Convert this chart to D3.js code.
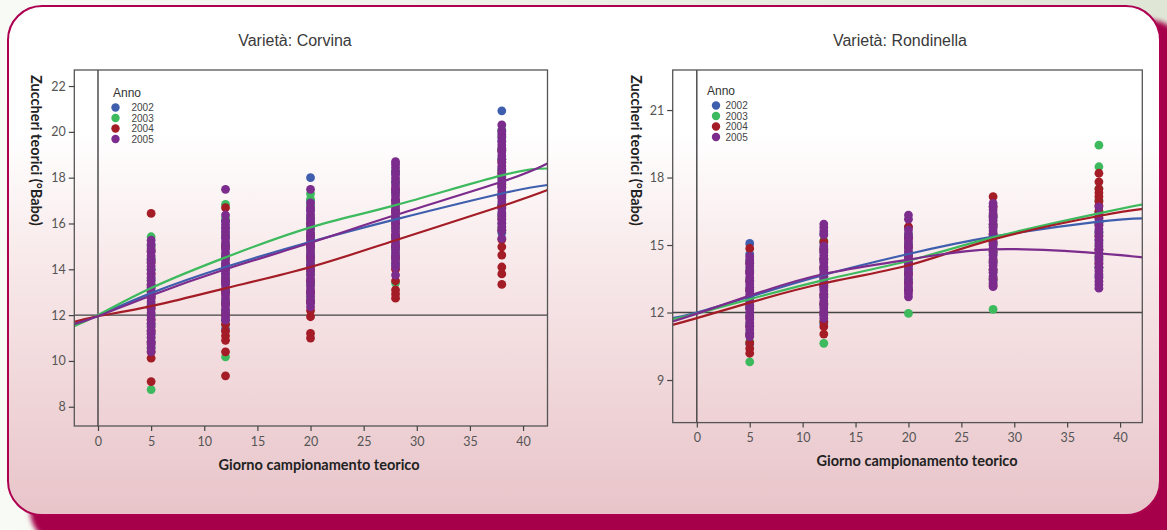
<!DOCTYPE html>
<html>
<head>
<meta charset="utf-8">
<script src="https://cdn.jsdelivr.net/npm/d3@7"></script>
<style>
  body { margin: 0; background: #fff; }
  svg { display: block; }
</style>
</head>
<body>
<script>
// Sampling days and years
const days = [5, 12, 20, 28, 38];
const years = ["2002", "2003", "2004", "2005"];
const yearColors = ["#3f5fae", "#3dba5d", "#a31c26", "#7b2c8c"];

// Tick labels
const corvinaTicksY = [8, 10, 12, 14, 16, 18, 20, 22];
const rondinellaTicksY = [9, 12, 15, 18, 21];
const ticksX = [0, 5, 10, 15, 20, 25, 30, 35, 40];

// Corvina: one list of readings per sampling day
const corvina2002 = [
    [10.8, 11.2, 11.6, 12.0, 12.4, 12.8, 13.2, 13.6, 14.0, 14.4, 14.8, 15.1],
    [11.4, 11.8, 12.2, 12.6, 13.0, 13.4, 13.8, 14.2, 14.6, 15.0, 15.4, 15.8, 16.1],
    [12.6, 13.0, 13.4, 13.8, 14.2, 14.6, 15.0, 15.4, 15.8, 16.2, 16.6, 17.0, 18.0],
    [14.2, 14.6, 15.0, 15.4, 15.8, 16.2, 16.6, 17.0, 17.4, 17.8, 18.2],
    [15.6, 16.0, 16.4, 16.8, 17.2, 17.6, 18.0, 18.4, 18.8, 19.2, 19.6, 20.0, 20.92]
];
const corvina2003 = [
    [8.75, 10.6, 11.0, 11.5, 12.0, 12.5, 13.0, 13.5, 14.0, 14.5, 15.0, 15.42],
    [10.18, 11.6, 12.1, 12.6, 13.1, 13.6, 14.1, 14.6, 15.1, 15.6, 16.24, 16.83],
    [12.8, 13.3, 13.8, 14.3, 14.8, 15.3, 15.8, 16.3, 16.8, 17.05, 17.3],
    [13.41, 14.3, 14.8, 15.3, 15.8, 16.3, 16.8, 17.3, 17.8, 18.3],
    [15.8, 16.3, 16.8, 17.3, 17.8, 18.3, 18.8, 19.3, 19.8, 20.1]
];
const corvina2004 = [
    [9.1, 10.12, 10.4, 10.8, 11.3, 11.8, 12.3, 12.8, 13.3, 13.8, 14.3, 14.8, 16.44],
    [9.35, 10.4, 10.9, 11.1, 11.3, 11.6, 12.0, 12.5, 13.0, 13.5, 14.0, 14.5, 15.0, 16.69],
    [11.0, 11.2, 11.93, 12.2, 12.6, 13.0, 13.5, 14.0, 14.5, 15.0, 15.5, 16.0],
    [12.74, 12.92, 13.1, 13.5, 14.0, 14.5, 15.0, 15.5, 16.0, 16.5, 17.0, 17.5],
    [13.34, 13.8, 14.1, 14.62, 14.98, 15.3, 15.7, 16.2, 16.7, 17.2, 17.7, 18.2, 18.7, 19.2]
];
const corvina2005 = [
    [10.40, 10.55, 10.72, 10.86, 11.03, 11.18, 11.34, 11.49, 11.65, 11.8, 11.96, 12.1, 12.27, 12.42, 12.58, 12.73,
     12.89, 13.04, 13.2, 13.35, 13.51, 13.66, 13.82, 13.97, 14.13, 14.28, 14.44, 14.59, 14.75, 14.9, 15.06, 15.27],
    [11.78, 11.93, 12.09, 12.24, 12.4, 12.55, 12.71, 12.86, 13.02, 13.17, 13.33, 13.48, 13.64, 13.79, 13.95, 14.1,
     14.26, 14.41, 14.57, 14.72, 14.88, 15.03, 15.19, 15.34, 15.5, 15.65, 15.81, 15.96, 16.12, 16.37, 17.49],
    [12.36, 12.52, 12.67, 12.83, 12.98, 13.14, 13.29, 13.45, 13.6, 13.76, 13.91, 14.07, 14.22, 14.38, 14.53, 14.69,
     14.84, 15.0, 15.15, 15.31, 15.46, 15.62, 15.77, 15.93, 16.08, 16.24, 16.39, 16.55, 16.7, 16.9, 17.49],
    [13.75, 14.1, 14.25, 14.41, 14.56, 14.72, 14.87, 15.03, 15.18, 15.34, 15.49, 15.65, 15.8, 15.96, 16.11, 16.27,
     16.42, 16.58, 16.73, 16.89, 17.04, 17.2, 17.35, 17.51, 17.66, 17.82, 17.97, 18.13, 18.28, 18.44, 18.59, 18.7],
    [15.35, 15.71, 15.86, 16.02, 16.17, 16.33, 16.48, 16.64, 16.79, 16.95, 17.1, 17.26, 17.41, 17.57, 17.72, 17.88,
     18.03, 18.19, 18.34, 18.5, 18.65, 18.81, 18.96, 19.12, 19.27, 19.43, 19.58, 19.74, 19.89, 20.05, 20.3]
];

// Rondinella
const rondinella2002 = [
    [10.6, 11.0, 11.4, 11.8, 12.2, 12.6, 13.0, 13.4, 13.8, 14.2, 14.6, 15.07],
    [11.5, 11.9, 12.3, 12.7, 13.1, 13.5, 13.9, 14.3, 14.7, 15.1, 15.5],
    [13.0, 13.4, 13.8, 14.2, 14.6, 15.0, 15.4, 15.8],
    [13.4, 13.8, 14.2, 14.6, 15.0, 15.4, 15.8, 16.2],
    [13.6, 14.0, 14.4, 14.8, 15.2, 15.6, 16.0, 16.4]
];
const rondinella2003 = [
    [9.81, 10.7, 11.1, 11.5, 11.9, 12.3, 12.7, 13.1, 13.5, 13.9, 14.3],
    [10.63, 11.6, 12.0, 12.4, 12.8, 13.2, 13.6, 14.0, 14.4, 14.8, 15.2],
    [11.96, 13.1, 13.5, 13.9, 14.3, 14.7, 15.1, 15.5],
    [12.14, 13.5, 13.9, 14.3, 14.7, 15.1, 15.5, 15.9, 16.3],
    [14.0, 14.5, 15.0, 15.5, 16.0, 16.5, 17.0, 17.5, 18.48, 19.44]
];
const rondinella2004 = [
    [10.19, 10.4, 10.65, 11.0, 11.4, 11.8, 12.2, 12.6, 13.0, 13.4, 13.8, 14.2, 14.85],
    [11.04, 11.37, 11.6, 12.0, 12.4, 12.8, 13.2, 13.6, 14.0, 14.4, 14.8, 15.15],
    [13.0, 13.3, 13.7, 14.1, 14.5, 14.9, 15.3, 15.81],
    [13.2, 13.5, 13.9, 14.3, 14.7, 15.1, 15.5, 15.9, 16.3, 16.7, 17.15],
    [14.2, 14.8, 15.4, 15.9, 16.2, 16.5, 16.75, 16.95, 17.15, 17.32, 17.5, 17.81, 18.19]
];
const rondinella2005 = [
    [10.93, 11.08, 11.24, 11.39, 11.55, 11.7, 11.86, 12.01, 12.17, 12.32, 12.48, 12.63, 12.79, 12.94, 13.1, 13.25,
     13.41, 13.56, 13.72, 13.87, 14.03, 14.18, 14.34, 14.48],
    [11.74, 11.89, 12.05, 12.2, 12.36, 12.51, 12.67, 12.82, 12.98, 13.13, 13.29, 13.44, 13.6, 13.75, 13.91, 14.06,
     14.22, 14.37, 14.53, 14.68, 14.84, 14.95, 15.45, 15.62, 15.78, 15.93],
    [12.7, 12.85, 13.01, 13.16, 13.32, 13.47, 13.63, 13.78, 13.94, 14.09, 14.25, 14.4, 14.56, 14.71, 14.87, 15.02,
     15.18, 15.33, 15.49, 15.67, 16.15, 16.33],
    [13.15, 13.3, 13.46, 13.61, 13.77, 13.92, 14.08, 14.23, 14.39, 14.54, 14.7, 14.85, 15.01, 15.16, 15.32, 15.47,
     15.63, 15.78, 15.94, 16.09, 16.25, 16.4, 16.56, 16.71, 16.85],
    [13.08, 13.23, 13.39, 13.54, 13.7, 13.85, 14.01, 14.16, 14.32, 14.47, 14.63, 14.78, 14.94, 15.09, 15.25, 15.4,
     15.56, 15.71, 15.87, 16.02, 16.18, 16.33, 16.7]
];

// Fitted curves, read at these days
const fitDays = [-2.3, 0, 5, 12, 20, 28, 38, 42.3];
const corvinaFit2002 = [11.6, 11.98, 12.96, 14.1, 15.2, 16.18, 17.31, 17.68];
const corvinaFit2003 = [11.5, 12.0, 13.18, 14.52, 15.83, 16.8, 18.1, 18.4];
const corvinaFit2004 = [11.7, 11.95, 12.39, 13.17, 14.1, 15.27, 16.76, 17.46];
const corvinaFit2005 = [11.6, 11.95, 12.86, 14.0, 15.16, 16.37, 17.82, 18.62];
const rondinellaFit2002 = [11.75, 12.0, 12.7, 13.67, 14.6, 15.37, 16.04, 16.19];
const rondinellaFit2003 = [11.7, 11.95, 12.59, 13.44, 14.3, 15.34, 16.41, 16.82];
const rondinellaFit2004 = [11.45, 11.75, 12.44, 13.3, 14.1, 15.25, 16.29, 16.61];
const rondinellaFit2005 = [11.6, 11.95, 12.75, 13.71, 14.35, 14.81, 14.63, 14.44];

const width = 1167, height = 530;
const svg = d3.select("body").append("svg")
    .attr("width", width)
    .attr("height", height);

const defs = svg.append("defs");

// Page background
const bg = defs.append("linearGradient").attr("id", "bg").attr("x1", 0).attr("x2", 1).attr("y1", 0).attr("y2", 0);
bg.append("stop").attr("offset", "0%").attr("stop-color", "#f8faf6");
bg.append("stop").attr("offset", "100%").attr("stop-color", "#dfe6d6");

// Panel fill: white to pink
const fill = defs.append("linearGradient").attr("id", "panelFill").attr("x1", 0).attr("x2", 0).attr("y1", 0).attr("y2", 1);
fill.append("stop").attr("offset", "0%").attr("stop-color", "#ffffff");
fill.append("stop").attr("offset", "25%").attr("stop-color", "#ffffff");
fill.append("stop").attr("offset", "50%").attr("stop-color", "#f8e9ea");
fill.append("stop").attr("offset", "100%").attr("stop-color", "#e8c4c9");

defs.append("filter").attr("id", "blur")
    .attr("x", "-5%").attr("y", "-5%").attr("width", "110%").attr("height", "110%")
    .append("feGaussianBlur").attr("stdDeviation", 2.5);

svg.append("rect").attr("width", width).attr("height", height).attr("fill", "url(#bg)");

// Crimson shadow and the rounded frame
svg.append("rect")
    .attr("x", 30).attr("y", 20).attr("width", 1155).attr("height", 525)
    .attr("rx", 35)
    .attr("fill", "#a5004a")
    .attr("filter", "url(#blur)");

svg.append("rect")
    .attr("x", 8).attr("y", 6).attr("width", 1152).attr("height", 509)
    .attr("rx", 34)
    .attr("fill", "url(#panelFill)")
    .attr("stroke", "#ad0050")
    .attr("stroke-width", 2);

const panels = [
    {
        id: "corvina",
        title: "Varietà: Corvina", titleX: 295,
        box: [74.3, 70, 547.5, 426],
        xDomain: [-2.23, 42.3], yDomain: [7.16, 22.7],
        yTicks: corvinaTicksY,
        points: [corvina2002, corvina2003, corvina2004, corvina2005],
        fits: [corvinaFit2002, corvinaFit2003, corvinaFit2004, corvinaFit2005],
        legend: { x: 113, dotX: 115.5, textX: 131.5, y: 97 },
        yTitleX: 31, xTitleX: 319
    },
    {
        id: "rondinella",
        title: "Varietà: Rondinella", titleX: 900,
        box: [672.7, 70, 1142.3, 422.6],
        xDomain: [-2.28, 42.1], yDomain: [7.107, 22.78],
        yTicks: rondinellaTicksY,
        points: [rondinella2002, rondinella2003, rondinella2004, rondinella2005],
        fits: [rondinellaFit2002, rondinellaFit2003, rondinellaFit2004, rondinellaFit2005],
        legend: { x: 707, dotX: 716, textX: 725.5, y: 95 },
        yTitleX: 631, xTitleX: 917
    }
];

panels.forEach(p => {
    const [x0, y0, x1, y1] = p.box;
    const x = d3.scaleLinear().domain(p.xDomain).range([x0, x1]);
    const y = d3.scaleLinear().domain(p.yDomain).range([y1, y0]);

    const g = svg.append("g");

    // Title
    g.append("text")
        .attr("x", p.titleX).attr("y", 46)
        .attr("text-anchor", "middle")
        .attr("font-family", "Liberation Sans, Arial, sans-serif")
        .attr("font-size", "16px")
        .attr("fill", "#3a3a3a")
        .text(p.title);

    defs.append("clipPath").attr("id", "clip-" + p.id)
        .append("rect").attr("x", x0).attr("y", y0).attr("width", x1 - x0).attr("height", y1 - y0);

    const plot = g.append("g").attr("clip-path", `url(#clip-${p.id})`);

    // Reference lines at day 0 and 12 °Babo
    plot.append("line")
        .attr("x1", x(0)).attr("x2", x(0)).attr("y1", y0).attr("y2", y1)
        .attr("stroke", "#333").attr("stroke-width", 1.3);
    plot.append("line")
        .attr("x1", x0).attr("x2", x1).attr("y1", y(12)).attr("y2", y(12))
        .attr("stroke", "#444").attr("stroke-width", 1.3);

    // Points, year by year (2005 ends on top)
    p.points.forEach((byDay, yi) => {
        const flat = [];
        byDay.forEach((vals, di) => vals.forEach(v => flat.push({ day: days[di], v })));
        plot.selectAll(null)
            .data(flat)
            .enter().append("circle")
            .attr("cx", d => x(d.day))
            .attr("cy", d => y(d.v))
            .attr("r", 4.4)
            .attr("fill", yearColors[yi]);
    });

    // Fitted curves
    const line = d3.line()
        .x((d, i) => x(fitDays[i]))
        .y(d => y(d))
        .curve(d3.curveNatural);
    p.fits.forEach((fit, yi) => {
        plot.append("path")
            .attr("d", line(fit))
            .attr("fill", "none")
            .attr("stroke", yearColors[yi])
            .attr("stroke-width", 2.2);
    });

    // Plot border
    g.append("rect")
        .attr("x", x0).attr("y", y0).attr("width", x1 - x0).attr("height", y1 - y0)
        .attr("fill", "none").attr("stroke", "#555").attr("stroke-width", 1.3);

    // Axes
    const yAxisG = g.append("g")
        .attr("transform", `translate(${x0},0)`)
        .call(d3.axisLeft(y).tickValues(p.yTicks).tickSize(5.5).tickPadding(3).tickSizeOuter(0));
    const xAxisG = g.append("g")
        .attr("transform", `translate(0,${y1})`)
        .call(d3.axisBottom(x).tickValues(ticksX).tickSize(5).tickPadding(6).tickSizeOuter(0));

    [yAxisG, xAxisG].forEach(a => {
        a.select(".domain").remove();
        a.selectAll("line").attr("stroke", "#444").attr("stroke-width", 1.2);
        a.selectAll("text")
            .attr("font-family", "Lato, 'Open Sans', sans-serif")
            .attr("font-size", "12.5px")
            .attr("fill", "#555");
    });

    // Axis titles
    g.append("text")
        .attr("transform", `translate(${p.yTitleX},75) rotate(90)`)
        .attr("font-family", "Lato, 'Open Sans', sans-serif")
        .attr("font-weight", "bold")
        .attr("font-size", "14.5px")
        .attr("fill", "#222")
        .text("Zuccheri teorici (°Babo)");

    g.append("text")
        .attr("x", p.xTitleX).attr("y", y1 + 43.5)
        .attr("text-anchor", "middle")
        .attr("font-family", "Lato, 'Open Sans', sans-serif")
        .attr("font-weight", "bold")
        .attr("font-size", "14.5px")
        .attr("fill", "#222")
        .text("Giorno campionamento teorico");

    // Legend
    const lg = g.append("g");
    lg.append("text")
        .attr("x", p.legend.x).attr("y", p.legend.y)
        .attr("font-family", "Liberation Sans, Arial, sans-serif")
        .attr("font-size", "12px")
        .attr("fill", "#333")
        .text("Anno");
    years.forEach((yr, i) => {
        const cy = p.legend.y + 10.5 + i * 10.5;
        lg.append("circle")
            .attr("cx", p.legend.dotX).attr("cy", cy).attr("r", 4.2)
            .attr("fill", yearColors[i]);
        lg.append("text")
            .attr("x", p.legend.textX).attr("y", cy + 3.5)
            .attr("font-family", "Liberation Sans, Arial, sans-serif")
            .attr("font-size", "10px")
            .attr("fill", "#444")
            .text(yr);
    });
});
</script>
</body>
</html>
